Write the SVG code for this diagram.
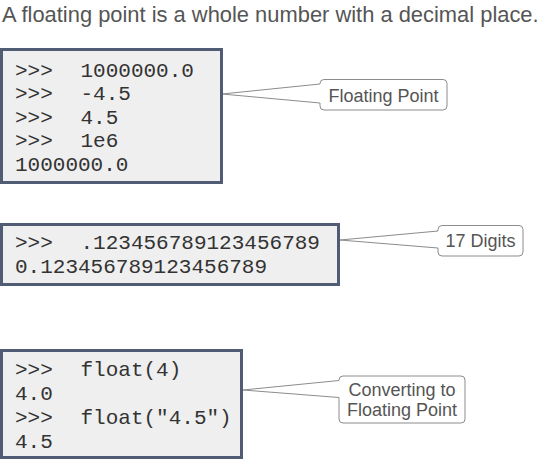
<svg xmlns="http://www.w3.org/2000/svg" width="542" height="463" viewBox="0 0 542 463">
<style>
.title{font-family:"Liberation Sans",Arial,sans-serif;font-size:21.9px;fill:#555555}
.box{fill:#efefef;stroke:#4f5c73;stroke-width:3}
.code{font-family:"Liberation Mono","Courier New",monospace;font-size:21px;fill:#333333}
.callout{fill:#ffffff;stroke:#8c8c8c;stroke-width:1}
.label{font-family:"Liberation Sans",Arial,sans-serif;font-size:18px;fill:#555555;text-anchor:middle}
</style>
<rect width="542" height="463" fill="#ffffff"/>
<text class="title" x="2" y="22">A floating point is a whole number with a decimal place.</text>

<g id="connectors">
<path id="callout1" class="callout" d="M324,79.5 H443 Q447,79.5 447,83.5 V106 Q447,110 443,110 H324 Q320,110 320,106 V103 L222,94 L320,84 V83.5 Q320,79.5 324,79.5 Z"/>
<path id="callout2" class="callout" d="M442,225.5 H519 Q523,225.5 523,229.5 V252 Q523,256 519,256 H442 Q438,256 438,252 V248 L340,240 L438,231 V229.5 Q438,225.5 442,225.5 Z"/>
<path id="callout3" class="callout" d="M343,376 H461 Q465,376 465,380 V419 Q465,423 461,423 H343 Q339,423 339,419 V397.5 L243,390 L339,380.5 V380 Q339,376 343,376 Z"/>
</g>

<g id="box1">
<rect class="box" x="1.5" y="49.5" width="220" height="133"/>
<text class="code" x="15" y="76.5">&gt;&gt;&gt;</text><text class="code" x="80.5" y="76.5">1000000.0</text>
<text class="code" x="15" y="100">&gt;&gt;&gt;</text><text class="code" x="80.5" y="100">-4.5</text>
<text class="code" x="15" y="123.5">&gt;&gt;&gt;</text><text class="code" x="80.5" y="123.5">4.5</text>
<text class="code" x="15" y="147">&gt;&gt;&gt;</text><text class="code" x="80.5" y="147">1e6</text>
<text class="code" x="15" y="170.5">1000000.0</text>
</g>

<g id="box2">
<rect class="box" x="1.5" y="224.5" width="337" height="60"/>
<text class="code" x="15" y="248.5">&gt;&gt;&gt;</text><text class="code" x="80.5" y="248.5">.123456789123456789</text>
<text class="code" x="15" y="272.5">0.123456789123456789</text>
</g>

<g id="box3">
<rect class="box" x="1.5" y="350.5" width="240" height="107"/>
<text class="code" x="15" y="375.5">&gt;&gt;&gt;</text><text class="code" x="80.5" y="375.5">float(4)</text>
<text class="code" x="15" y="399.5">4.0</text>
<text class="code" x="15" y="423.5">&gt;&gt;&gt;</text><text class="code" x="80.5" y="423.5">float("4.5")</text>
<text class="code" x="15" y="447.5">4.5</text>
</g>

<g id="label1"><text class="label" x="383.5" y="101.5">Floating Point</text></g>
<g id="label2"><text class="label" x="480.5" y="247">17 Digits</text></g>
<g id="label3"><text class="label" x="402" y="396">Converting to</text><text class="label" x="402" y="416">Floating Point</text></g>
</svg>
